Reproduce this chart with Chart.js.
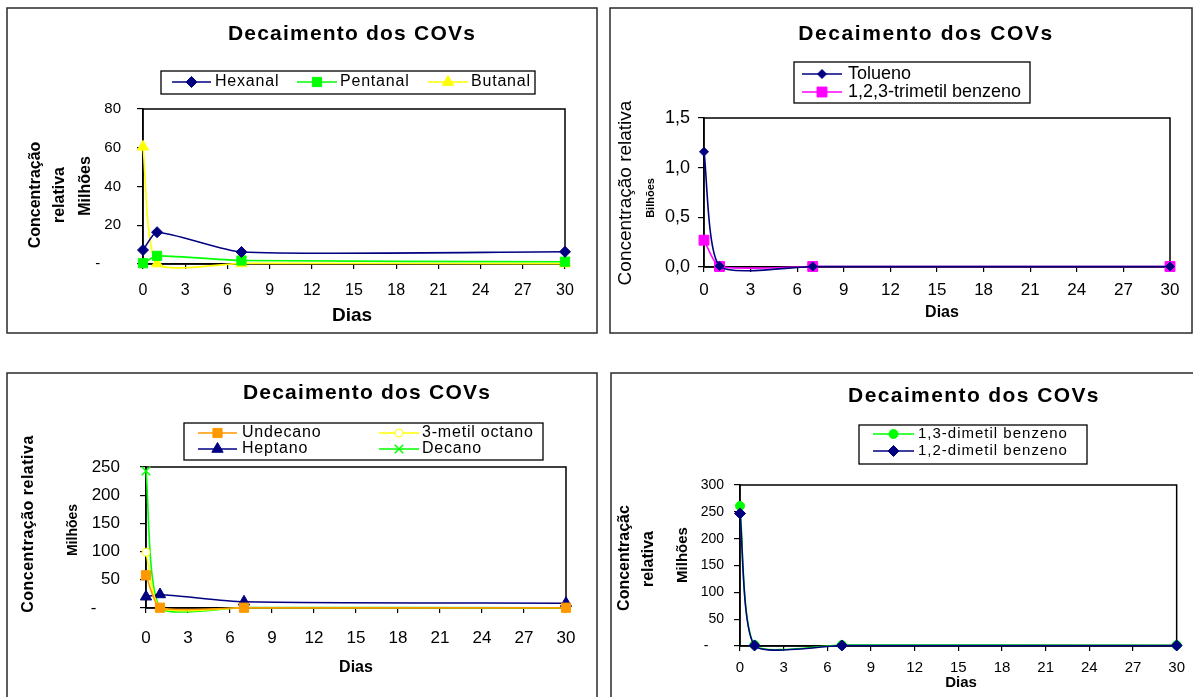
<!DOCTYPE html>
<html><head><meta charset="utf-8">
<script src="https://cdn.jsdelivr.net/npm/chart.js@4.4.1/dist/chart.umd.min.js"></script>
<style>
html,body{margin:0;padding:0;background:#fff;width:1193px;height:697px;overflow:hidden}
canvas{position:absolute;left:0;top:0;pointer-events:none}
</style></head><body>
<canvas id="c1" width="1193" height="697"></canvas>
<canvas id="c2" width="1193" height="697"></canvas>
<canvas id="c3" width="1193" height="697"></canvas>
<canvas id="c4" width="1193" height="697"></canvas>
<script>
// ---------- data ----------
const days = [0, 1, 7, 30];
const xTicks = [0, 3, 6, 9, 12, 15, 18, 21, 24, 27, 30];

// chart 1 (Milhões)
const hexanal  = [7.2, 16.4, 6.2, 6.3];
const pentanal = [0.4, 4.2, 1.8, 1.2];
const butanal  = [60.5, 0.2, 0.3, 0.2];
const yTicks1  = [0, 20, 40, 60, 80];
const yLabels1 = ['-\u2007\u2007 ', '20', '40', '60', '80'];

// chart 2 (Bilhões)
const tolueno  = [1.16, 0.01, 0.005, 0.005];
const trimetil = [0.27, 0.005, 0.005, 0.005];
const yTicks2  = [0, 0.5, 1.0, 1.5];
const yLabels2 = ['0,0', '0,5', '1,0', '1,5'];

// chart 3 (Milhões)
const undecano    = [58, 0.5, 0.5, 0.5];
const metilOctano = [99, 0.5, 0.5, 0.5];
const heptano     = [20, 24, 11, 8.5];
const decano      = [243, 1, 1, 0.5];
const yTicks3  = [0, 50, 100, 150, 200, 250];
const yLabels3 = ['-\u2007\u2007 ', '50', '100', '150', '200', '250'];

// chart 4 (Milhões)
const dimetil13 = [261, 2, 2, 1.5];
const dimetil12 = [247, 1, 1, 1];
const yTicks4  = [0, 50, 100, 150, 200, 250, 300];
const yLabels4 = ['-\u2007\u2007', '50', '100', '150', '200', '250', '300'];

const titleText = 'Decaimento dos COVs';

// ---------- helpers ----------
const FAM = "'Liberation Sans', Arial, sans-serif";
Chart.defaults.font.family = FAM;
Chart.defaults.color = '#000';

function pts(ys) { return days.map((d, i) => ({x: d, y: ys[i]})); }

function drawMarker(ctx, style, r, x, y, bw) {
  if (Chart.helpers && Chart.helpers.drawPoint) {
    Chart.helpers.drawPoint(ctx, {pointStyle: style, radius: r, rotation: 0, borderWidth: bw}, x, y);
    return;
  }
  ctx.beginPath(); ctx.arc(x, y, r, 0, Math.PI * 2); ctx.fill(); ctx.stroke();
}

function txt(ctx, t) {
  ctx.save();
  ctx.font = t.font;
  ctx.fillStyle = t.color || '#000';
  try { ctx.letterSpacing = (t.ls || 0) + 'px'; } catch (e) {}
  ctx.textAlign = t.align || 'center';
  ctx.textBaseline = 'middle';
  ctx.translate(t.x, t.y);
  if (t.rot) ctx.rotate(t.rot * Math.PI / 180);
  ctx.fillText(t.text, 0, 0);
  ctx.restore();
}

const deco = {
  id: 'deco',
  beforeDraw(chart) {
    const o = chart.config._config.deco;
    const ctx = chart.ctx, f = o.frame;
    ctx.save();
    ctx.strokeStyle = '#2a2a2a'; ctx.lineWidth = 1.5;
    ctx.strokeRect(f[0], f[1], f[2] - f[0], f[3] - f[1]);
    ctx.restore();
  },
  beforeDatasetsDraw(chart) {
    const ctx = chart.ctx, a = chart.chartArea;
    ctx.save();
    ctx.strokeStyle = '#000'; ctx.lineWidth = 1.5;
    ctx.strokeRect(a.left, a.top, a.right - a.left, a.bottom - a.top);
    ctx.restore();
  },
  afterDraw(chart) {
    const o = chart.config._config.deco;
    const ctx = chart.ctx;
    o.texts.forEach(t => txt(ctx, t));
    const L = o.legend, b = L.box;
    ctx.save();
    ctx.strokeStyle = '#000'; ctx.lineWidth = 1.3;
    ctx.fillStyle = '#fff';
    ctx.fillRect(b[0], b[1], b[2] - b[0], b[3] - b[1]);
    ctx.strokeRect(b[0], b[1], b[2] - b[0], b[3] - b[1]);
    L.items.forEach((it, i) => {
      const ds = chart.data.datasets[i];
      ctx.strokeStyle = ds.borderColor; ctx.lineWidth = ds.borderWidth;
      ctx.beginPath(); ctx.moveTo(it[0], it[2]); ctx.lineTo(it[1], it[2]); ctx.stroke();
      ctx.fillStyle = ds.pointBackgroundColor; ctx.strokeStyle = ds.pointBorderColor;
      ctx.lineWidth = ds.pointBorderWidth;
      drawMarker(ctx, ds.pointStyle, ds.pointRadius, (it[0] + it[1]) / 2, it[2], ds.pointBorderWidth);
      txt(ctx, {text: ds.label, x: it[3], y: it[2], font: L.font, ls: L.ls, align: 'left'});
    });
    ctx.restore();
  }
};

function ds(label, ys, color, style, r, opts) {
  return Object.assign({
    label, data: pts(ys), borderColor: color, borderWidth: 1.6,
    pointStyle: style, pointRadius: r, pointBackgroundColor: color, pointBorderColor: color,
    pointBorderWidth: 1, tension: 0.2, fill: false,
    clip: {left: 10, top: 10, right: 10, bottom: 10}
  }, opts || {});
}

function makeChart(id, cfg) {
  const p = cfg.plot; // [left, top, right, bottom]
  const WY = 70, HX = 40;
  return new Chart(document.getElementById(id), {
    type: 'scatter',
    data: {datasets: cfg.datasets},
    deco: cfg.deco,
    plugins: [deco],
    options: {
      responsive: false, animation: false, devicePixelRatio: 1,
      showLine: true,
      layout: {padding: {left: p[0] - WY, top: p[1], right: 1193 - p[2], bottom: 697 - p[3] - HX}},
      elements: {line: {capBezierPoints: false}},
      plugins: {legend: {display: false}, title: {display: false}, tooltip: {enabled: false}},
      scales: {
        x: {
          type: 'linear', min: 0, max: 30, position: 'bottom',
          afterBuildTicks: s => { s.ticks = xTicks.map(v => ({value: v})); },
          afterFit: s => { s.height = HX; },
          grid: {drawOnChartArea: false, drawTicks: true, tickLength: 5, color: '#000', lineWidth: 1.2},
          border: {display: true, color: '#000', width: 1.5},
          ticks: {autoSkip: false, maxRotation: 0, padding: cfg.xPad, font: {size: cfg.xFont}, color: '#000',
                  callback: v => String(v)}
        },
        y: {
          type: 'linear', min: cfg.yTicks[0], max: cfg.yTicks[cfg.yTicks.length - 1], position: 'left',
          afterBuildTicks: s => { s.ticks = cfg.yTicks.map(v => ({value: v})); },
          afterFit: s => { s.width = WY; },
          grid: {drawOnChartArea: false, drawTicks: true, tickLength: 6, color: '#000', lineWidth: 1.2},
          border: {display: true, color: '#000', width: 1.5},
          ticks: {autoSkip: false, padding: cfg.yPad, font: {size: cfg.yFont}, color: '#000',
                  callback: (v, i) => cfg.yLabels[i]}
        }
      }
    }
  });
}

const NAVY = '#000080', GREEN = '#00ff00', YELLOW = '#ffff00', MAGENTA = '#ff00ff', ORANGE = '#ff9900';
const B = (s) => 'bold ' + s + 'px ' + FAM;
const R = (s) => s + 'px ' + FAM;

// ---------- chart 1 ----------
makeChart('c1', {
  plot: [143, 109, 565, 264], xPad: 12, xFont: 16, yPad: 16, yFont: 15,
  yTicks: yTicks1, yLabels: yLabels1,
  datasets: [
    ds('Hexanal', hexanal, NAVY, 'rectRot', 5.5),
    ds('Pentanal', pentanal, GREEN, 'rect', 6.5),
    ds('Butanal', butanal, YELLOW, 'triangle', 6.5)
  ],
  deco: {
    frame: [7, 8, 597, 333],
    texts: [
      {text: titleText, x: 352, y: 34, font: B(21), ls: 1.2},
      {text: 'Concentração', x: 36, y: 195, font: B(16), rot: -90},
      {text: 'relativa', x: 60, y: 195, font: B(16), rot: -90},
      {text: 'Milhões', x: 86, y: 186, font: B(16), rot: -90},
      {text: 'Dias', x: 352, y: 316, font: B(19)}
    ],
    legend: {box: [161, 71, 535, 94], font: R(16), ls: 0.8,
      items: [[172, 211, 82, 215], [297, 337, 82, 340], [428, 468, 82, 471]]}
  }
});

// ---------- chart 2 ----------
makeChart('c2', {
  plot: [704, 118, 1170, 267], xPad: 8, xFont: 17, yPad: 8, yFont: 18,
  yTicks: yTicks2, yLabels: yLabels2,
  datasets: [
    ds('Tolueno', tolueno, NAVY, 'rectRot', 4.5),
    ds('1,2,3-trimetil benzeno', trimetil, MAGENTA, 'rect', 7)
  ],
  deco: {
    frame: [610, 8, 1192, 333],
    texts: [
      {text: titleText, x: 926, y: 34, font: B(21), ls: 1.6},
      {text: 'Concentração relativa', x: 626, y: 193, font: R(19), rot: -90},
      {text: 'Bilhões', x: 651, y: 198, font: B(11), rot: -90},
      {text: 'Dias', x: 942, y: 313, font: B(16)}
    ],
    legend: {box: [794, 62, 1030, 103], font: R(18), ls: 0,
      items: [[802, 842, 74, 848], [802, 842, 92, 848]]}
  }
});

// ---------- chart 3 ----------
makeChart('c3', {
  plot: [146, 467, 566, 608], xPad: 15, xFont: 17, yPad: 20, yFont: 17,
  yTicks: yTicks3, yLabels: yLabels3,
  datasets: [
    ds('Undecano', undecano, ORANGE, 'rect', 6.5),
    ds('3-metil octano', metilOctano, YELLOW, 'circle', 4, {pointBackgroundColor: '#ffffff'}),
    ds('Heptano', heptano, NAVY, 'triangle', 6.5),
    ds('Decano', decano, GREEN, 'crossRot', 6, {pointBorderWidth: 1.5})
  ],
  deco: {
    frame: [7, 373, 597, 705],
    texts: [
      {text: titleText, x: 367, y: 393, font: B(21), ls: 1.2},
      {text: 'Concentração relativa', x: 29, y: 524, font: B(16), rot: -90, ls: 0.5},
      {text: 'Milhões', x: 73, y: 530, font: B(14), rot: -90},
      {text: 'Dias', x: 356, y: 668, font: B(16)}
    ],
    legend: {box: [184, 423, 543, 460], font: R(16), ls: 0.8,
      items: [[198, 237, 433, 242], [379, 419, 433, 422], [198, 237, 449, 242], [379, 419, 449, 422]]}
  }
});

// ---------- chart 4 ----------
makeChart('c4', {
  plot: [740, 485, 1178, 646], xPad: 8, xFont: 15, yPad: 10, yFont: 14,
  yTicks: yTicks4, yLabels: yLabels4,
  datasets: [
    ds('1,3-dimetil benzeno', dimetil13, GREEN, 'circle', 4.5, {order: 1}),
    ds('1,2-dimetil benzeno', dimetil12, NAVY, 'rectRot', 5.5, {order: 0})
  ],
  deco: {
    frame: [611, 373, 1205, 705],
    texts: [
      {text: titleText, x: 974, y: 396, font: B(21), ls: 1.4},
      {text: 'Concentraçãc', x: 625, y: 558, font: B(16), rot: -90},
      {text: 'relativa', x: 649, y: 559, font: B(16), rot: -90},
      {text: 'Milhões', x: 683, y: 555, font: B(15), rot: -90},
      {text: 'Dias', x: 961, y: 683, font: B(15)}
    ],
    legend: {box: [859, 425, 1087, 464], font: R(15), ls: 1,
      items: [[873, 914, 434, 918], [873, 914, 451, 918]]}
  }
});
</script>
</body></html>
